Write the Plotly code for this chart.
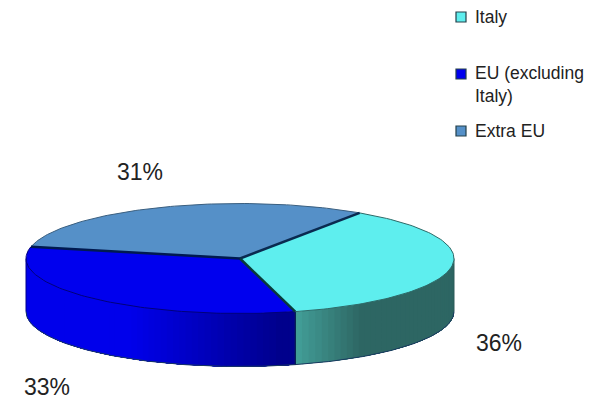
import numpy as np
import plotly.graph_objects as go

categories = ["Italy", "EU (excluding<br>Italy)", "Extra EU"]
values = [36.4, 32.6, 31.0]
labels = ["36%", "33%", "31%"]
top_colors = ["#5EEEEE", "#0000EE", "#5590C8"]

CX, CY, RX, RY, DEPTH = 240, 258.5, 214, 55, 53
START = 56.0
PAGE_MARGIN = 8  # the page body adds this offset around the figure


def ell(t_deg, dy=0.0):
    t = np.radians(t_deg)
    return CX + RX * np.cos(t), CY - RY * np.sin(t) + dy


def lerp(c1, c2, f):
    return "rgb(%d,%d,%d)" % tuple(round(a + (b - a) * f) for a, b in zip(c1, c2))


sweeps = np.array(values) / sum(values) * 360
ends = START - np.cumsum(sweeps)
starts = ends + sweeps

fig = go.Figure()


# side wall: overlapping bands painted in order, so the shading varies without seams
def side(t0, t1, color_at, n):
    edges = np.linspace(t0, t1, n + 1)
    for a, b in zip(edges[:-1], edges[1:]):
        ts = np.linspace(a, t1, 60)
        xt, yt = ell(ts)
        xb, yb = ell(ts[::-1], DEPTH)
        c = color_at((a + b) / 2)
        fig.add_trace(go.Scatter(x=np.r_[xt, xb], y=np.r_[yt, yb], mode="lines", fill="toself",
                                 fillcolor=c, line=dict(width=0), hoverinfo="skip", showlegend=False))


def teal(t):
    x = ell(t)[0]
    f = min(1, max(0, (x - 296) / 65))
    return lerp((66, 158, 152), (45, 102, 99), f)


def blue(t):
    x = ell(t)[0]
    f = min(1, max(0, (x - 130) / 150))
    return lerp((0, 0, 235), (0, 0, 140), f)


side(ends[0], 0, teal, 40)
side(-180, ends[0], blue, 60)

# outlines of the side wall
for t0, t1 in [(ends[0], 0), (-180, ends[0])]:
    ts = np.linspace(t0, t1, 80)
    xb, yb = ell(ts, DEPTH)
    fig.add_trace(go.Scatter(x=xb, y=yb, mode="lines", line=dict(color="#1a3a60", width=1),
                             hoverinfo="skip", showlegend=False))
for t, col in [(0, "#2d5a58"), (-180, "#00008c"), (ends[0], "#0a2a40")]:
    x0, y0 = ell(t)
    x1, y1 = ell(t, DEPTH)
    fig.add_trace(go.Scatter(x=[x0, x1], y=[y0, y1], mode="lines", line=dict(color=col, width=1),
                             hoverinfo="skip", showlegend=False))

# top face
for s, e, c in zip(starts, ends, top_colors):
    ts = np.linspace(s, e, 120)
    xt, yt = ell(ts)
    fig.add_trace(go.Scatter(x=np.r_[CX, xt, CX], y=np.r_[CY, yt, CY], mode="lines", fill="toself",
                             fillcolor=c, line=dict(width=0),
                             hoverinfo="skip", showlegend=False))

# rim of the top face
for i, col in [(2, "#3a5f80"), (0, "#2d6a68"), (1, "#00007a")]:
    ts = np.linspace(starts[i], ends[i], 100)
    xt, yt = ell(ts)
    fig.add_trace(go.Scatter(x=xt, y=yt, mode="lines", line=dict(color=col, width=1),
                             hoverinfo="skip", showlegend=False))

# spokes
for s, col in zip(starts, ["#0a2a50", "#083a3a", "#001a50"]):
    x0, y0 = ell(s)
    fig.add_trace(go.Scatter(x=[CX, x0], y=[CY, y0], mode="lines", line=dict(color=col, width=2.5),
                             hoverinfo="skip", showlegend=False))

# legend
legend_y = [17, 74, 131]
fig.add_trace(go.Scatter(x=[461] * 3, y=legend_y, mode="markers",
                         marker=dict(symbol="square", size=10, color=top_colors,
                                     line=dict(color="#24404a", width=1.2)),
                         hoverinfo="skip", showlegend=False))
for cat, y in zip(categories, [17, 84, 131]):
    fig.add_annotation(x=473, y=y, text=cat, showarrow=False, xanchor="left", yanchor="middle", align="left",
                       font=dict(family="Liberation Sans", size=17.5, color="#222222"))

# percent labels
for lab, x, y in zip(labels, [499, 47, 140], [343, 387, 172]):
    fig.add_annotation(x=x, y=y, text=lab, showarrow=False,
                       font=dict(family="Liberation Sans", size=23, color="#222222"))

fig.update_xaxes(range=[PAGE_MARGIN, 594], visible=False, fixedrange=True)
fig.update_yaxes(range=[400, PAGE_MARGIN], visible=False, fixedrange=True)
fig.update_layout(width=594 - PAGE_MARGIN, height=400 - PAGE_MARGIN, margin=dict(l=0, r=0, t=0, b=0),
                  paper_bgcolor="white", plot_bgcolor="white", showlegend=False)
fig.write_html("out.html", config={"displayModeBar": False})
